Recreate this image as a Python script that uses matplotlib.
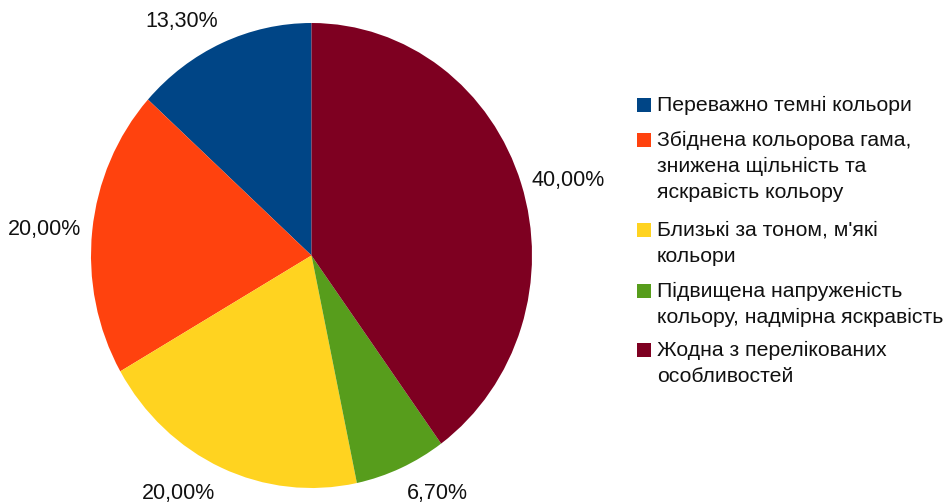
import matplotlib
matplotlib.use("Agg")
import matplotlib.pyplot as plt
from matplotlib.patches import Rectangle
import numpy as np

plt.rcParams['font.family'] = ['Liberation Sans', 'DejaVu Sans']

categories = [
    "Переважно темні кольори",
    "Збіднена кольорова гама,\nзнижена щільність та\nяскравість кольору",
    "Близькі за тоном, м'які\nкольори",
    "Підвищена напруженість\nкольору, надмірна яскравість",
    "Жодна з перелікованих\nособливостей",
]
values = [13.3, 20.0, 20.0, 6.7, 40.0]
value_labels = ["13,30%", "20,00%", "20,00%", "6,70%", "40,00%"]
colors = ["#004586", "#ff420e", "#ffd320", "#579d1c", "#7e0021"]

W, H = 948, 503
fig = plt.figure(figsize=(W / 100, H / 100), dpi=100)

# pie axes (pixel box: x 91..532, y 23..488)
x0, x1, y0, y1 = 91, 532, 23, 488
ax = fig.add_axes([x0 / W, 1 - y1 / H, (x1 - x0) / W, (y1 - y0) / H])
wedges, _ = ax.pie(values, colors=colors, startangle=90, counterclock=True,
                   radius=1.0, wedgeprops=dict(linewidth=0))
ax.set_aspect('auto')
ax.set_xlim(-1, 1)
ax.set_ylim(-1, 1)
ax.axis('off')

for w, lab in zip(wedges, value_labels):
    ang = np.deg2rad((w.theta1 + w.theta2) / 2)
    c, s = np.cos(ang), np.sin(ang)
    r = 1.05
    ha = 'left' if c > 0 else 'right'
    if abs(s) < 0.5:
        va = 'center'
    else:
        va = 'bottom' if s > 0 else 'top'
    if va == 'top':
        r = 1.07
    ax.text(r * c, r * s, lab, ha=ha, va=va, fontsize=15.5, color='#111111',
            clip_on=False)

# legend, drawn manually
entry_y = [105, 140, 230, 291, 350]
line_pitch = 26
for col, lab, ey in zip(colors, categories, entry_y):
    fig.patches.append(Rectangle((637 / W, 1 - (ey + 7) / H), 14 / W, 14 / H,
                                 transform=fig.transFigure, facecolor=col,
                                 edgecolor='none'))
    for i, line in enumerate(lab.split("\n")):
        fig.text(657 / W, 1 - (ey + i * line_pitch) / H, line, ha='left',
                 va='center', fontsize=15.3, color='#111111')

fig.savefig("out.png", dpi=100)
